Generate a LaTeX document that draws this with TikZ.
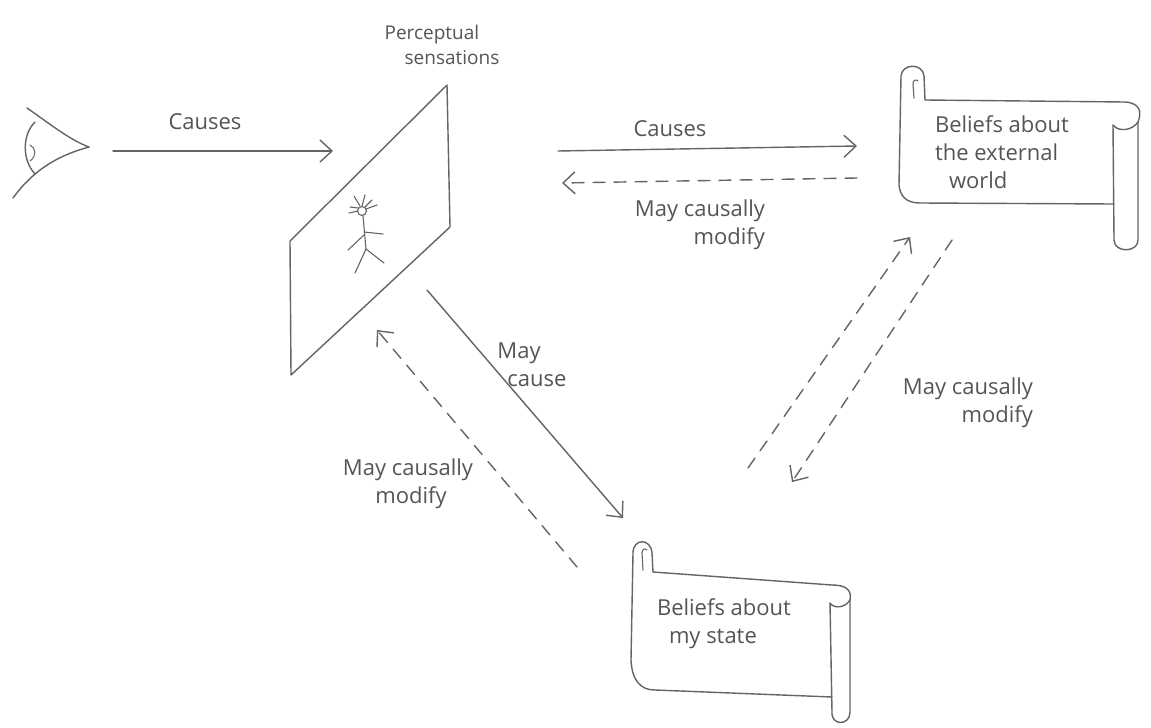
\documentclass[tikz,border=0pt]{standalone}
\usepackage{fontspec}
\setmainfont{Open Sans}
\usetikzlibrary{arrows.meta}
\definecolor{pen}{RGB}{100,100,100}
\definecolor{ink}{RGB}{85,85,85}
\begin{document}
\begin{tikzpicture}[x=1pt,y=-1pt,
  pen/.style={draw=pen, line width=1.4pt, line cap=round, line join=round},
  link/.style={pen, -{Straight Barb[length=12pt,width=22pt,line width=1.4pt]}},
  dlink/.style={link, dash pattern=on 12pt off 9pt},
  lbl/.style={text=ink, font=\fontsize{22}{28}\selectfont, inner sep=0pt},
]
\useasboundingbox[fill=white] (0,0) rectangle (1151,728);

% ---- eye ----
\draw[pen] (27,108) .. controls (50,124) and (70,140) .. (89,147);
\draw[pen] (89,147) .. controls (60,155) and (35,168) .. (13,198);
\draw[pen] (35,122) .. controls (22,135) and (22,160) .. (35,174);
\draw[pen, line width=1pt] (30,145) .. controls (36,148) and (37,156) .. (30,161);
\coordinate (eyeOut) at (113,151);

% ---- perceptual plane with stick figure ----
\draw[pen] (290,241) -- (447,85) -- (450,227) -- (291,375) -- cycle;
\coordinate (planeIn) at (333,151);
\coordinate (planeOut) at (558,151);
\coordinate (planeBack) at (562,183);
\coordinate (planeDown) at (427,290);
\coordinate (planeUp) at (377,330);
\node[lbl, font=\fontsize{19}{25}\selectfont, align=left] (sensLbl) at (442,45)
  {Perceptual\\\hspace*{20pt}sensations};
\begin{scope}[pen, line width=1.1pt]
  \draw (362,211) circle (4.5);
  \draw (360,206) -- (354,196);
  \draw (362,206) -- (365,195);
  \draw (365,207) -- (372,200);
  \draw (366,209) -- (377,205);
  \draw (358,208) -- (350,207);
  \draw (358,211) -- (349,213);
  \draw (363,216) -- (366,249);
  \draw (364,232) -- (383,234);
  \draw (364,235) -- (348,250);
  \draw (366,249) -- (355,273);
  \draw (366,249) -- (384,263);
\end{scope}

% ---- scroll: beliefs about the external world ----
\draw[pen] (925,100) -- (1125,102) .. controls (1140,103) and (1142,112) .. (1138,122)
  -- (1138,240) .. controls (1138,253) and (1114,253) .. (1114,240) -- (1113,125);
\draw[pen] (1113,125) .. controls (1118,132) and (1132,131) .. (1138,122);
\draw[pen] (925,100) -- (924,76) .. controls (923,63) and (902,63) .. (901,76)
  -- (899,185) .. controls (900,196) and (906,203) .. (920,203) -- (1114,204);
\draw[pen, line width=1.1pt] (914,98) -- (913,84) .. controls (913,80) and (916,79) .. (918,81);
\node[lbl, align=left] (worldTxt) at (1002,152)
  {Beliefs about\\the external\\\hspace*{14pt}world};
\coordinate (worldIn) at (857,146);
\coordinate (worldOut) at (857,178);
\coordinate (worldUp) at (910,237);
\coordinate (worldDown) at (952,240);

% ---- scroll: beliefs about my state ----
\draw[pen] (653,572) -- (832,585) .. controls (846,585) and (852,590) .. (850,600)
  -- (850,712) .. controls (850,726) and (831,726) .. (832,712) -- (830,603);
\draw[pen] (830,603) .. controls (834,609) and (845,608) .. (850,600);
\draw[pen] (653,572) -- (652,553) .. controls (651,538) and (633,538) .. (633,553)
  -- (631,660) .. controls (632,680) and (640,690) .. (655,690) -- (832,697);
\draw[pen, line width=1.1pt] (643,570) -- (642,553) .. controls (642,549) and (645,548) .. (647,550);
\node[lbl, align=left] (stateTxt) at (724,624)
  {Beliefs about\\\hspace*{12pt}my state};
\coordinate (stateIn) at (623,518);
\coordinate (stateOut) at (577,567);
\coordinate (stateUp) at (748,468);
\coordinate (stateDown) at (792,482);

% ---- connectors ----
\draw[link] (eyeOut) -- (planeIn);
\node[lbl] (causesA) at (205,122) {Causes};

\draw[link] (planeOut) -- (worldIn);
\node[lbl] (causesB) at (670,129) {Causes};

\draw[dlink] (worldOut) -- (planeBack);
\node[lbl, align=right] (modA) at (700,225) {May causally\\modify};

\draw[link] (planeDown) -- (stateIn);
\node[lbl, align=left] (causeLbl) at (532,365) {May\\\hspace*{10pt}cause};

\draw[dlink] (stateOut) -- (planeUp);
\node[lbl, align=center] (modB) at (408,484) {May causally\\\hspace*{6pt}modify};

\draw[dlink] (stateUp) -- (worldUp);
\draw[dlink] (worldDown) -- (stateDown);
\node[lbl, align=right] (modC) at (968,403) {May causally\\modify};
\end{tikzpicture}
\end{document}
